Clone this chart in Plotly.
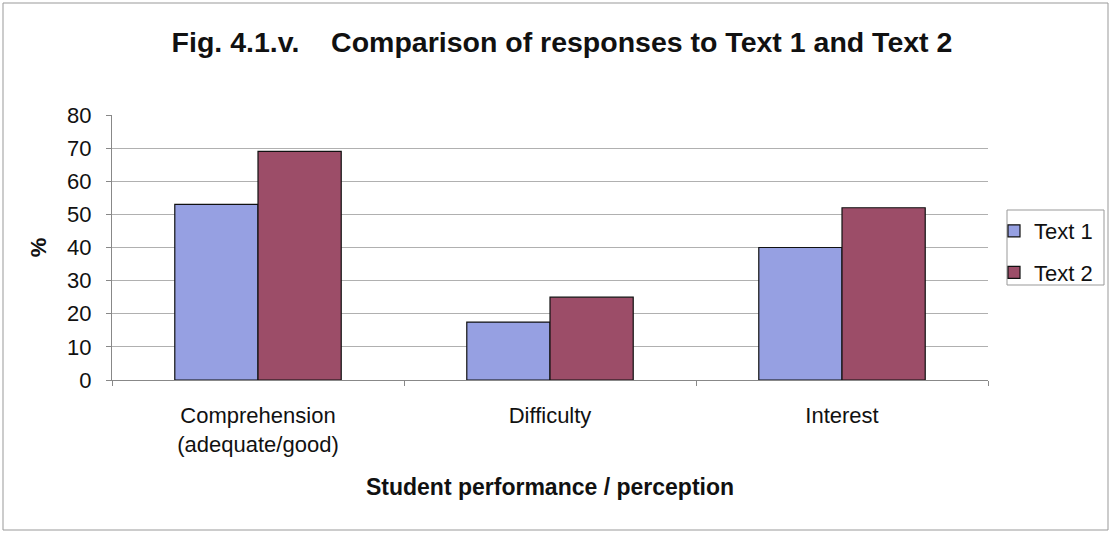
import plotly.graph_objects as go

categories = ["Comprehension<br>(adequate/good)", "Difficulty", "Interest"]
text1 = [53, 17.5, 40]
text2 = [69, 25, 52]
y_ticks = [0, 10, 20, 30, 40, 50, 60, 70, 80]

FONT = "Liberation Sans, Arial, sans-serif"

fig = go.Figure()
fig.add_trace(go.Bar(name="Text 1", x=categories, y=text1, legendgroup="t1",
                     marker=dict(color="#96A0E2", line=dict(color="#111111", width=1.2))))
fig.add_trace(go.Bar(name="Text 2", x=categories, y=text2, legendgroup="t2",
                     marker=dict(color="#9C4D68", line=dict(color="#111111", width=1.2))))

W, H = 1111, 533
L, R, T, B = 112, 123, 115, 153
pw, ph = W - L - R, H - T - B

def px_to_paper_x(px):
    return (px - L) / pw

def px_to_paper_y(py):
    return (H - B - py) / ph

fig.update_layout(
    width=W, height=H,
    margin=dict(l=L, r=R, t=T, b=B),
    paper_bgcolor="white", plot_bgcolor="white",
    barmode="group", bargap=0.43, bargroupgap=0,
    font=dict(family=FONT, size=22, color="#111111"),
    title=dict(text="<b>Fig. 4.1.v.    Comparison of responses to Text 1 and Text 2</b>",
               x=562 / W, xref="container", xanchor="center", y=1 - 42 / H, yanchor="middle",
               font=dict(family=FONT, size=28.5, color="#111111")),
    legend=dict(x=px_to_paper_x(994), y=px_to_paper_y(210), xanchor="left", yanchor="top",
                borderwidth=0, bgcolor="rgba(0,0,0,0)",
                font=dict(family=FONT, size=22), tracegroupgap=10, itemwidth=30),
    xaxis=dict(showline=True, linecolor="#888888", linewidth=1,
               ticks="outside", tickson="boundaries", ticklen=5, tickcolor="#888888",
               ticklabelstandoff=16,
               tickfont=dict(family=FONT, size=22),
               title=dict(text="<b>Student performance / perception</b>",
                          font=dict(family=FONT, size=23), standoff=22)),
    yaxis=dict(range=[0, 80], tickvals=y_ticks, showgrid=True, gridcolor="#B0B0B0", gridwidth=1,
               showline=True, linecolor="#888888", linewidth=1,
               ticks="outside", ticklen=5, tickcolor="#888888",
               ticklabelstandoff=10,
               tickfont=dict(family=FONT, size=22),
               title=dict(text="<b>%</b>", font=dict(family=FONT, size=22), standoff=14),
               zeroline=False),
    shapes=[dict(type="rect", xref="paper", yref="paper",
                 x0=px_to_paper_x(3), x1=px_to_paper_x(1108),
                 y0=px_to_paper_y(530), y1=px_to_paper_y(3),
                 line=dict(color="#999999", width=1), fillcolor="rgba(0,0,0,0)", layer="below"),
            dict(type="rect", xref="paper", yref="paper",
                 x0=px_to_paper_x(1007), x1=px_to_paper_x(1104),
                 y0=px_to_paper_y(285), y1=px_to_paper_y(210),
                 line=dict(color="#999999", width=1), fillcolor="rgba(0,0,0,0)", layer="below")],
)

fig.write_html("out.html")
